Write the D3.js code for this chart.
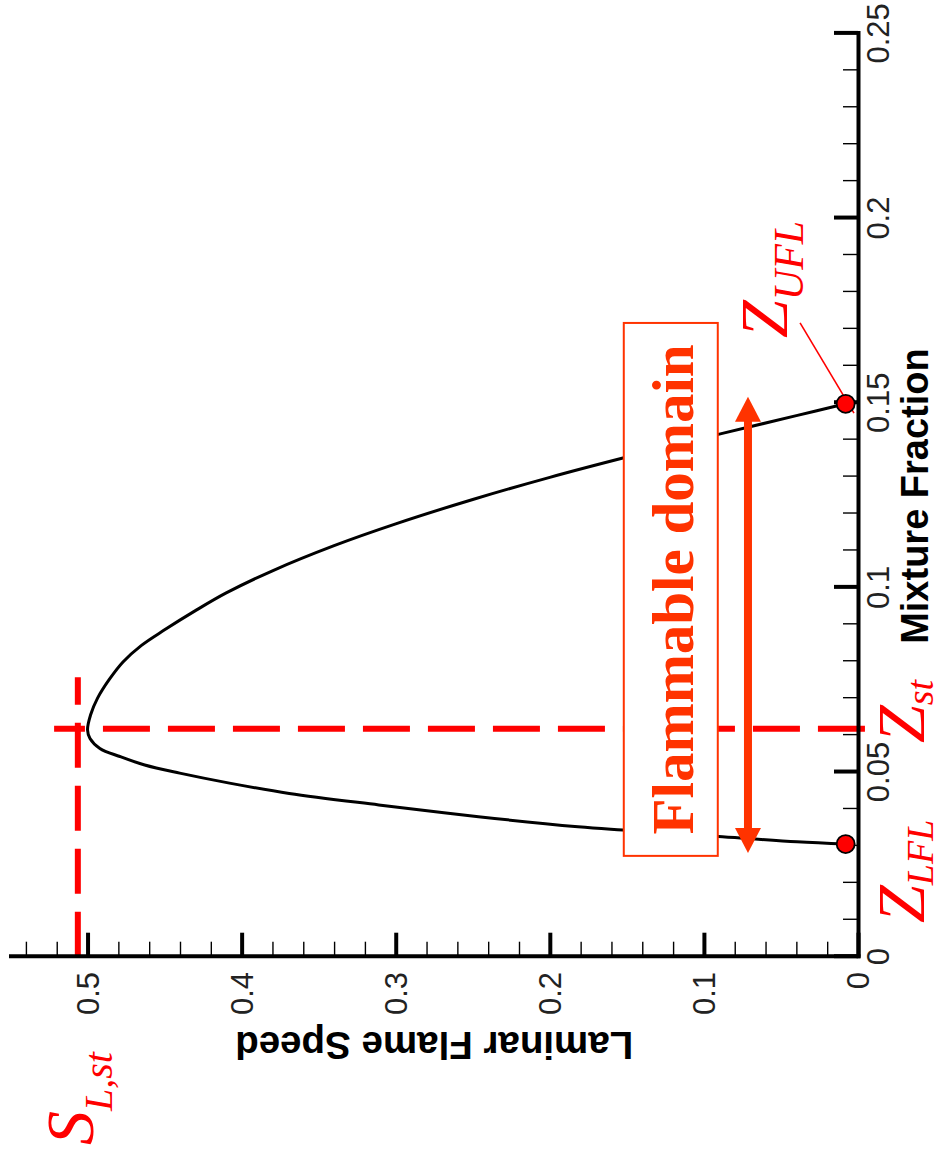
<!DOCTYPE html>
<html><head><meta charset="utf-8">
<script src="https://cdn.jsdelivr.net/npm/d3@7"></script>
<style>body{margin:0;background:#fff}svg{display:block}</style>
</head><body>
<svg id="c" width="943" height="1163"></svg>
<script>
// ---- data ----
const mixtureFraction = [0.0305,0.0311,0.0325,0.0343,0.0352,0.0379,0.0411,0.0442,0.0470,0.0497,0.0519,0.0542,0.0564,0.0591,0.0614,0.0655,0.0700,0.0750,0.0798,0.0843,0.0885,0.0937,0.0985,0.1045,0.1113,0.1172,0.1238,0.1298,0.1353,0.1417,0.1465,0.1497];
const flameSpeed      = [0.0080,0.0396,0.0880,0.1526,0.1817,0.2463,0.3110,0.3691,0.4079,0.4402,0.4629,0.4790,0.4920,0.4984,0.5000,0.4980,0.4935,0.4860,0.4770,0.4650,0.4500,0.4300,0.4100,0.3800,0.3400,0.3000,0.2500,0.2000,0.1500,0.0880,0.0400,0.0080];
const zTicks = [0,0.05,0.1,0.15,0.2,0.25];
const zTickLabels = ["0","0.05","0.1","0.15","0.2","0.25"];
const sTicks = [0,0.1,0.2,0.3,0.4,0.5];
const sTickLabels = ["0","0.1","0.2","0.3","0.4","0.5"];
const zMinorTicks = [0.01,0.02,0.03,0.04,0.06,0.07,0.08,0.09,0.11,0.12,0.13,0.14,0.16,0.17,0.18,0.19,0.21,0.22,0.23,0.24];
const sMinorTicks = [0.02,0.04,0.06,0.08,0.12,0.14,0.16,0.18,0.22,0.24,0.26,0.28,0.32,0.34,0.36,0.38,0.42,0.44,0.46,0.48,0.52,0.54];
const limitZ = [0.0305, 0.1497];          // Z_LFL, Z_UFL
const limitS = [0.008, 0.008];
const zStoich = 0.0617;                   // Z_st
const sStoich = 0.5063;                   // S_L,st
const zStLineS = [0.5217, -0.0045];       // extent of Z_st dashed line
const sStLineZ = [0, 0.0757];             // extent of S_L,st dashed line
const boxZ = [0.0273, 0.1716];
const boxS = [0.091, 0.152];
const arrowZ = [0.0281, 0.1516];
const arrowS = 0.0714;
const leaderZ = [0.1472, 0.1716];
const leaderS = [0.0026, 0.0376];

// ---- layout (chart drawn unrotated, then turned 90deg counter-clockwise) ----
const W = 923.3, H = 847.5;
const svg = d3.select("#c");
const g = svg.append("g").attr("transform","translate(10.5,956.7) rotate(-90)");
const x = d3.scaleLinear().domain([0,0.25]).range([0,W]);
const y = d3.scaleLinear().domain([0,0.55]).range([H,0]);
const RED = "#ff0000", ORANGE = "#ff3300";

// dashed reference lines
g.append("path")
  .attr("d", d3.line()([[x(zStoich), y(zStLineS[1])],[x(zStoich), y(zStLineS[0])]]))
  .attr("stroke",RED).attr("stroke-width",6).attr("stroke-dasharray","47 18").attr("fill","none");
g.append("path")
  .attr("d", d3.line()([[x(sStLineZ[0]), y(sStoich)],[x(sStLineZ[1]), y(sStoich)]]))
  .attr("stroke",RED).attr("stroke-width",6).attr("stroke-dasharray","45 18").attr("fill","none");

// curve
const pts = mixtureFraction.map((z,i)=>[z, flameSpeed[i]]);
g.append("path")
  .attr("d", d3.line().x(d=>x(d[0])).y(d=>y(d[1])).curve(d3.curveCatmullRom.alpha(0.5))(pts))
  .attr("fill","none").attr("stroke","#000").attr("stroke-width",3);

// axes
const xMinor = d3.axisBottom(x).tickValues(zMinorTicks).tickSize(-15).tickSizeOuter(0).tickFormat("");
const xMajor = d3.axisBottom(x).tickValues(zTicks).tickSize(-24).tickSizeOuter(0).tickFormat("");
const yMinor = d3.axisLeft(y).tickValues(sMinorTicks).tickSize(-15).tickSizeOuter(0).tickFormat("");
const yMajor = d3.axisLeft(y).tickValues(sTicks).tickSize(-24).tickSizeOuter(0).tickFormat("");
const gx1 = g.append("g").attr("transform",`translate(0,${H})`).call(xMinor);
const gx2 = g.append("g").attr("transform",`translate(0,${H})`).call(xMajor);
const gy1 = g.append("g").call(yMinor);
const gy2 = g.append("g").call(yMajor);
[gx1,gy1].forEach(a=>{a.select(".domain").remove(); a.selectAll("line").attr("stroke","#000").attr("stroke-width",1.4);});
[gx2,gy2].forEach(a=>{a.select(".domain").attr("stroke","#000").attr("stroke-width",4).attr("stroke-linecap","square");
  a.selectAll("line").attr("stroke","#000").attr("stroke-width",4);});

// tick labels
g.append("g").selectAll("text").data(zTicks).join("text")
  .attr("x", d=>x(d)).attr("y", H+31).attr("text-anchor","middle")
  .attr("font-family","Liberation Sans, Arial, sans-serif").attr("font-size",31).attr("fill","#222")
  .text((d,i)=>zTickLabels[i]);
g.append("g").selectAll("text").data(sTicks).join("text")
  .attr("x", -15.3).attr("y", d=>y(d)).attr("dy","0.36em").attr("text-anchor","end")
  .attr("font-family","Liberation Sans, Arial, sans-serif").attr("font-size",31).attr("fill","#222")
  .text((d,i)=>sTickLabels[i]);

// axis titles
g.append("text").attr("x", x(0.125)-1).attr("y", H+70).attr("text-anchor","middle")
  .attr("font-family","Liberation Sans, Arial, sans-serif").attr("font-weight","bold").attr("font-size",38)
  .text("Mixture Fraction");
g.append("text").attr("transform",`translate(-75.3,${y(0.275)}) rotate(-90)`).attr("text-anchor","middle")
  .attr("font-family","Liberation Sans, Arial, sans-serif").attr("font-weight","bold").attr("font-size",38.5)
  .text("Laminar Flame Speed");

// flammable domain box + text
g.append("rect").attr("x", x(boxZ[0])).attr("y", y(boxS[1]))
  .attr("width", x(boxZ[1])-x(boxZ[0])).attr("height", y(boxS[0])-y(boxS[1]))
  .attr("fill","#fff").attr("stroke",ORANGE).attr("stroke-width",2);
g.append("text").attr("x", (x(boxZ[0])+x(boxZ[1]))/2).attr("y", y(boxS[1]) + 69)
  .attr("text-anchor","middle").attr("font-family","Liberation Serif, 'Times New Roman', serif")
  .attr("font-weight","bold").attr("font-size",59).attr("fill",ORANGE).text("Flammable domain");

// double arrow
const ay = y(arrowS), a0 = x(arrowZ[0]), a1 = x(arrowZ[1]), hl = 25, hw = 13;
g.append("line").attr("x1",a0+hl-2).attr("x2",a1-hl+2).attr("y1",ay).attr("y2",ay)
  .attr("stroke",ORANGE).attr("stroke-width",8);
g.append("path").attr("d",`M${a0},${ay}L${a0+hl},${ay-hw}L${a0+hl},${ay+hw}Z`).attr("fill",ORANGE);
g.append("path").attr("d",`M${a1},${ay}L${a1-hl},${ay-hw}L${a1-hl},${ay+hw}Z`).attr("fill",ORANGE);

// leader line + limit markers
g.append("line").attr("x1",x(leaderZ[0])).attr("y1",y(leaderS[0])).attr("x2",x(leaderZ[1])).attr("y2",y(leaderS[1]))
  .attr("stroke",RED).attr("stroke-width",1.6);
g.append("g").selectAll("circle").data(limitZ).join("circle")
  .attr("cx", d=>x(d)).attr("cy",(d,i)=>y(limitS[i])).attr("r",9)
  .attr("fill",RED).attr("stroke","#000").attr("stroke-width",1.8);

// red labels
function sub(xp, yp, main, subtxt, shift, subSize){
  const t = g.append("text").attr("x",xp).attr("y",yp)
    .attr("font-family","Liberation Serif, 'Times New Roman', serif").attr("font-style","italic")
    .attr("fill",RED).attr("font-size",68);
  t.append("tspan").text(main);
  t.append("tspan").attr("font-size",subSize).attr("dy",shift).text(subtxt);
}
sub(213.7, 913, "Z", "st", 9, 38);
sub(33.7, 913, "Z", "LFL", 9, 38);
sub(618.7, 776.5, "Z", "UFL", 16, 42);
sub(-188.3, 82.5, "S", "L,st", 19, 40);
</script>
</body></html>
